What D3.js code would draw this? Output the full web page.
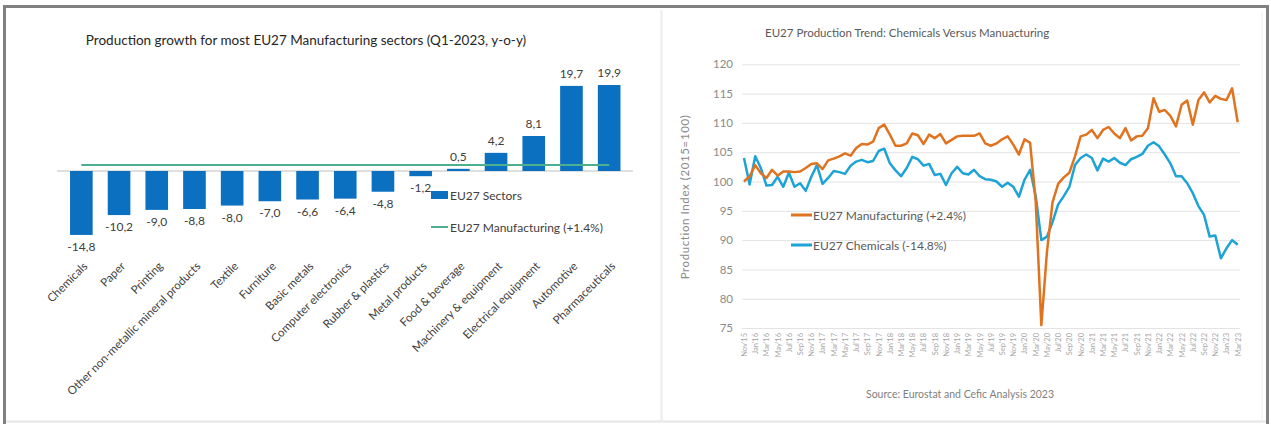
<!DOCTYPE html>
<html>
<head>
<meta charset="utf-8">
<script src="https://cdn.jsdelivr.net/npm/d3@7"></script>
<style>
  body { margin: 0; background: #fff; }
  svg text { font-family: Lato, "Open Sans", sans-serif; }
</style>
</head>
<body>
<div id="chart"></div>
<script>
// ---- data: left chart ----
var sectors = ["Chemicals", "Paper", "Printing", "Other non-metallic mineral products", "Textile",
  "Furniture", "Basic metals", "Computer electronics", "Rubber & plastics", "Metal products",
  "Food & beverage", "Machinery & equipment", "Electrical equipment", "Automotive", "Pharmaceuticals"];
var growth = [-14.8, -10.2, -9.0, -8.8, -8.0, -7.0, -6.6, -6.4, -4.8, -1.2, 0.5, 4.2, 8.1, 19.7, 19.9];
var manufGrowth = 1.4;

// ---- data: right chart (monthly, Nov'15 .. Mar'23) ----
var months = d3.timeMonth.range(new Date(2015, 10, 1), new Date(2023, 3, 1));
var manufacturing = [100.0, 100.9, 102.8, 101.4, 100.6, 102.0, 101.0, 101.7, 101.7, 101.6,
  101.7, 102.3, 103.0, 103.1, 102.1, 103.6, 103.9, 104.3, 104.8, 104.4,
  105.7, 106.4, 106.3, 106.8, 109.1, 109.7, 108.0, 106.1, 106.1, 106.5,
  108.2, 107.9, 106.4, 108.0, 107.4, 108.1, 106.5, 107.1, 107.7, 107.8,
  107.8, 107.8, 108.2, 106.5, 106.1, 106.5, 107.2, 107.7, 106.3, 104.6,
  107.2, 106.6, 96.5, 75.5, 88.0, 96.5, 99.6, 100.7, 101.5, 104.3,
  107.7, 108.0, 108.8, 107.4, 108.8, 109.3, 108.2, 107.4, 109.1, 107.0,
  107.7, 107.8, 109.1, 114.2, 111.9, 112.2, 111.2, 109.4, 113.1, 113.8,
  109.7, 113.9, 115.2, 113.5, 114.6, 114.1, 113.9, 115.9, 110.1];
var chemicals = [104.0, 99.5, 104.3, 102.3, 99.3, 99.4, 100.8, 99.1, 101.5, 99.1,
  99.7, 98.4, 100.8, 102.8, 99.6, 100.6, 101.8, 101.6, 101.3, 102.7,
  103.4, 103.7, 103.3, 103.5, 105.2, 105.6, 103.1, 101.9, 100.9, 102.3,
  104.2, 103.8, 102.7, 103.0, 101.1, 101.3, 99.4, 101.4, 102.5, 101.4,
  101.2, 102.0, 100.9, 100.4, 100.3, 100.0, 99.1, 99.8, 99.1, 97.4,
  100.3, 102.0, 97.5, 90.0, 90.6, 93.1, 96.1, 97.5, 99.1, 102.8,
  104.0, 104.6, 104.0, 101.9, 103.9, 103.4, 104.0, 103.2, 102.8, 103.8,
  104.2, 104.7, 106.1, 106.7, 106.0, 104.6, 103.1, 100.9, 100.9, 99.7,
  98.0, 95.8, 94.3, 90.6, 90.8, 86.9, 88.6, 90.0, 89.2];
var yTicks = [75, 80, 85, 90, 95, 100, 105, 110, 115, 120];

var W = 1271, H = 424;
var svg = d3.select("#chart").append("svg")
    .attr("width", W)
    .attr("height", H);

svg.append("rect").attr("width", W).attr("height", H).attr("fill", "#fff");

// frame
svg.append("line").attr("x1", 3).attr("x2", 1269).attr("y1", 6.5).attr("y2", 6.5)
  .attr("stroke", "#808080").attr("stroke-width", 3);
svg.append("line").attr("x1", 4.5).attr("x2", 4.5).attr("y1", 5).attr("y2", 424)
  .attr("stroke", "#808080").attr("stroke-width", 3);
svg.append("line").attr("x1", 1267.5).attr("x2", 1267.5).attr("y1", 5).attr("y2", 424)
  .attr("stroke", "#808080").attr("stroke-width", 3);
svg.append("line").attr("x1", 6).attr("x2", 1266).attr("y1", 421.5).attr("y2", 421.5)
  .attr("stroke", "#e6e6e6").attr("stroke-width", 2);
svg.append("line").attr("x1", 661.5).attr("x2", 661.5).attr("y1", 10).attr("y2", 421)
  .attr("stroke", "#ececec").attr("stroke-width", 2);
svg.append("line").attr("x1", 1262).attr("x2", 1262).attr("y1", 12).attr("y2", 421)
  .attr("stroke", "#eeeeee").attr("stroke-width", 1);

// ================= left: bar chart =================
var left = svg.append("g");

left.append("text")
  .attr("x", 306).attr("y", 45)
  .attr("text-anchor", "middle")
  .attr("font-size", 13.5)
  .attr("fill", "#262626")
  .text("Production growth for most EU27 Manufacturing sectors (Q1-2023, y-o-y)");

var x = d3.scaleBand()
  .domain(sectors)
  .range([62.5, 628])
  .paddingInner(0.4)
  .paddingOuter(0.2);

var y = d3.scaleLinear()
  .domain([-20, 25])
  .range([257.4, 63]);

// baseline
left.append("line")
  .attr("x1", 57).attr("x2", 633)
  .attr("y1", y(0)).attr("y2", y(0))
  .attr("stroke", "#bfbfbf").attr("stroke-width", 1);

left.selectAll("rect.bar")
  .data(growth)
  .enter()
  .append("rect")
    .attr("class", "bar")
    .attr("x", function(d, i) { return x(sectors[i]); })
    .attr("width", x.bandwidth())
    .attr("y", function(d) { return d >= 0 ? y(d) : y(0); })
    .attr("height", function(d) { return Math.abs(y(d) - y(0)); })
    .attr("fill", "#0b70bf");

// value labels
left.selectAll("text.val")
  .data(growth)
  .enter()
  .append("text")
    .attr("class", "val")
    .attr("x", function(d, i) { return x(sectors[i]) + x.bandwidth() / 2; })
    .attr("y", function(d) { return d >= 0 ? y(d) - 8 : y(d) + 16; })
    .attr("text-anchor", "middle")
    .attr("font-size", 12)
    .attr("fill", "#404040")
    .text(function(d) { return d.toFixed(1).replace(".", ","); });

// manufacturing average line
left.append("line")
  .attr("x1", x(sectors[0]) + x.bandwidth() / 2)
  .attr("x2", x(sectors[sectors.length - 1]) + x.bandwidth() / 2)
  .attr("y1", y(manufGrowth)).attr("y2", y(manufGrowth))
  .attr("stroke", "#4cb08e").attr("stroke-width", 2);

// category labels
var xAxis = left.append("g")
  .attr("transform", "translate(0,264)")
  .call(d3.axisBottom(x).tickSize(0));
xAxis.select(".domain").remove();
xAxis.selectAll("text")
  .attr("font-size", 11.5)
  .attr("fill", "#404040")
  .attr("y", 0)
  .attr("dy", "0.35em")
  .attr("transform", "translate(4,0)rotate(-45)")
  .style("text-anchor", "end");

// legend
left.append("rect")
  .attr("x", 431).attr("y", 191)
  .attr("width", 17).attr("height", 8)
  .attr("fill", "#0b70bf");
left.append("text")
  .attr("x", 450).attr("y", 199.5)
  .attr("font-size", 12).attr("fill", "#404040")
  .text("EU27 Sectors");
left.append("line")
  .attr("x1", 431).attr("x2", 448)
  .attr("y1", 227).attr("y2", 227)
  .attr("stroke", "#4cb08e").attr("stroke-width", 2);
left.append("text")
  .attr("x", 450).attr("y", 231.5)
  .attr("font-size", 12).attr("fill", "#404040")
  .text("EU27 Manufacturing (+1.4%)");

// ================= right: line chart =================
var right = svg.append("g");

right.append("text")
  .attr("x", 765).attr("y", 37)
  .attr("font-size", 11.5)
  .attr("fill", "#595959")
  .text("EU27 Production Trend: Chemicals Versus Manuacturing");

var xr = d3.scalePoint()
  .domain(months.map(function(d) { return +d; }))
  .range([744, 1237.7]);

var yr = d3.scaleLinear()
  .domain([75, 120])
  .range([328, 64.3]);

// gridlines
var grid = right.append("g")
  .attr("transform", "translate(742,0)")
  .call(d3.axisLeft(yr).tickValues(yTicks).tickSize(-498).tickFormat(""));
grid.select(".domain").remove();
grid.selectAll("line").attr("stroke", "#e3e3e3").attr("stroke-width", 1);

var yAxis = right.append("g")
  .attr("transform", "translate(733,0)")
  .call(d3.axisLeft(yr).tickValues(yTicks).tickSize(0).tickPadding(0));
yAxis.select(".domain").remove();
yAxis.selectAll("text")
  .attr("font-size", 11.5)
  .attr("fill", "#8a8a8a");

right.append("text")
  .attr("transform", "translate(689,197)rotate(-90)")
  .attr("text-anchor", "middle")
  .attr("font-size", 11.5)
  .attr("letter-spacing", 0.6)
  .attr("fill", "#8a8a8a")
  .text("Production Index (2015=100)");

var fmt = d3.timeFormat("%b'%y");
var xrAxis = right.append("g")
  .attr("transform", "translate(0,332)")
  .call(d3.axisBottom(xr)
    .tickValues(xr.domain().filter(function(d, i) { return i % 2 === 0; }))
    .tickSize(0)
    .tickFormat(function(d) { return fmt(new Date(d)); }));
xrAxis.select(".domain").remove();
xrAxis.selectAll("text")
  .attr("font-size", 7.5)
  .attr("fill", "#a6a6a6")
  .attr("x", -1)
  .attr("y", 0)
  .attr("dy", "0.32em")
  .attr("transform", "rotate(-90)")
  .style("text-anchor", "end");

var line = d3.line()
  .x(function(d, i) { return xr(+months[i]); })
  .y(function(d) { return yr(d); });

right.append("path")
  .datum(chemicals)
  .attr("d", line)
  .attr("fill", "none")
  .attr("stroke", "#1ea3d6")
  .attr("stroke-width", 2.5)
  .attr("stroke-linejoin", "round");

right.append("path")
  .datum(manufacturing)
  .attr("d", line)
  .attr("fill", "none")
  .attr("stroke", "#e07320")
  .attr("stroke-width", 2.5)
  .attr("stroke-linejoin", "round");

// legend
right.append("line")
  .attr("x1", 791).attr("x2", 812).attr("y1", 215).attr("y2", 215)
  .attr("stroke", "#e07320").attr("stroke-width", 3);
right.append("text")
  .attr("x", 813).attr("y", 219.5)
  .attr("font-size", 12).attr("fill", "#595959")
  .text("EU27 Manufacturing (+2.4%)");
right.append("line")
  .attr("x1", 791).attr("x2", 812).attr("y1", 245).attr("y2", 245)
  .attr("stroke", "#1ea3d6").attr("stroke-width", 3);
right.append("text")
  .attr("x", 813).attr("y", 249.5)
  .attr("font-size", 12).attr("fill", "#595959")
  .text("EU27 Chemicals (-14.8%)");

right.append("text")
  .attr("x", 960).attr("y", 398)
  .attr("text-anchor", "middle")
  .attr("font-size", 10.5)
  .attr("fill", "#7f7f7f")
  .text("Source: Eurostat and Cefic Analysis 2023");
</script>
</body>
</html>
